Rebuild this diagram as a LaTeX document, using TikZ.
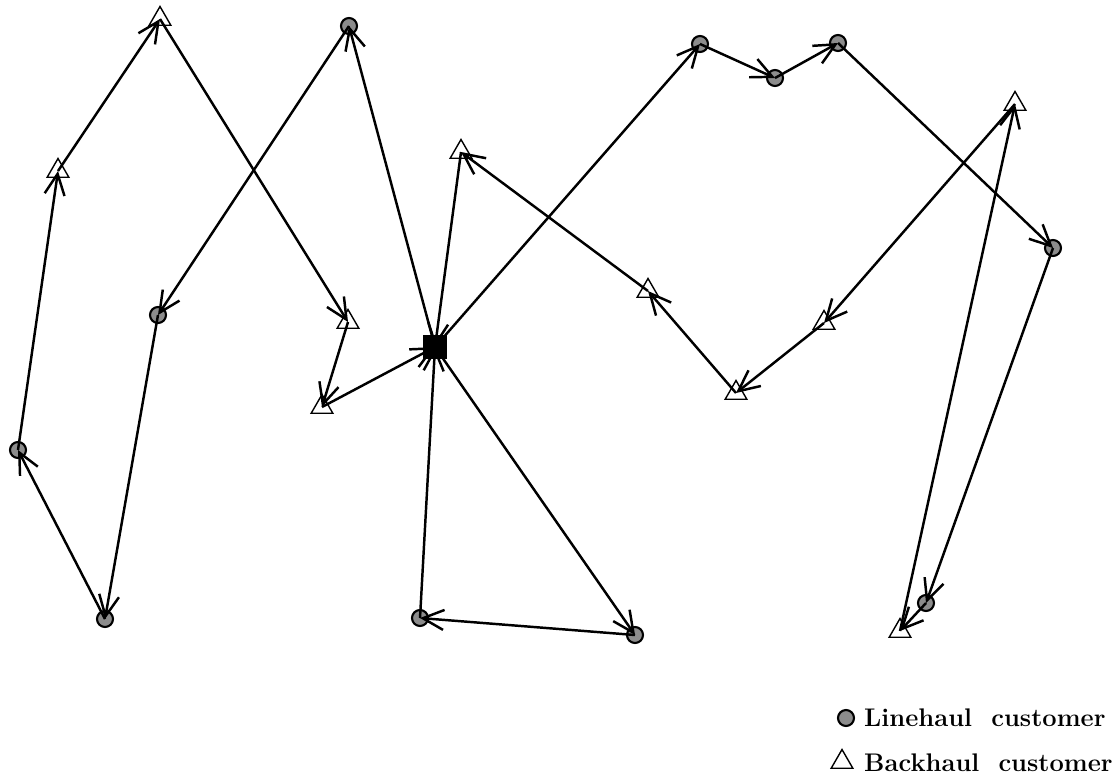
\documentclass[tikz,border=0pt]{standalone}
\usepackage{tikz}
\usetikzlibrary{arrows.meta,shapes.geometric}
\definecolor{linegrey}{RGB}{140,140,140}

\begin{document}
\begin{tikzpicture}[
    line/.style={circle, draw, line width=1.2pt, fill=linegrey, inner sep=0pt,
                 minimum size=0.32cm},
    back/.style={regular polygon, regular polygon sides=3, draw, thick,
                 fill=white, inner sep=0pt, minimum size=0.5cm},
    depot/.style={rectangle, fill=black, inner sep=0pt, minimum size=0.48cm},
    arr/.style={-{Straight Barb[length=4.2mm,width=4mm]}, line width=1.4pt},
    legend/.style={font=\fontsize{14.5}{17}\selectfont\bfseries, anchor=west},
  ]
  \useasboundingbox (0,0) rectangle (22.38,-15.52);

  % Depot
  \node[depot] (D) at (8.70,-6.94) {};

  % Linehaul customers
  \node[line] (L1)  at (6.98,-0.52) {};
  \node[line] (L2)  at (3.16,-6.30) {};
  \node[line] (L3)  at (0.36,-9.00) {};
  \node[line] (L4)  at (2.10,-12.38) {};
  \node[line] (L5)  at (8.40,-12.36) {};
  \node[line] (L6)  at (12.70,-12.70) {};
  \node[line] (L7)  at (14.00,-0.88) {};
  \node[line] (L8)  at (15.50,-1.56) {};
  \node[line] (L9)  at (16.76,-0.86) {};
  \node[line] (L10) at (21.06,-4.96) {};
  \node[line] (L11) at (18.52,-12.06) {};

  % Backhaul customers
  \node[back] (B1)  at (3.20,-0.38) {};
  \node[back] (B2)  at (1.16,-3.42) {};
  \node[back] (B3)  at (6.96,-6.44) {};
  \node[back] (B4)  at (6.44,-8.14) {};
  \node[back] (B5)  at (9.22,-3.04) {};
  \node[back] (B6)  at (12.96,-5.82) {};
  \node[back] (B7)  at (14.72,-7.86) {};
  \node[back] (B8)  at (16.48,-6.46) {};
  \node[back] (B9)  at (20.30,-2.08) {};
  \node[back] (B10) at (18.00,-12.62) {};

  % Route 1
  \draw[arr] (D.center) -- (L1.center);
  \draw[arr] (L1.center) -- (L2.center);
  \draw[arr] (L2.center) -- (L4.center);
  \draw[arr] (L4.center) -- (L3.center);
  \draw[arr] (L3.center) -- (B2.center);
  \draw[arr] (B2.center) -- (B1.center);
  \draw[arr] (B1.center) -- (B3.center);
  \draw[arr] (B3.center) -- (B4.center);
  \draw[arr] (B4.center) -- (D.center);

  % Route 2
  \draw[arr] (D.center) -- (L7.center);
  \draw[arr] (L7.center) -- (L8.center);
  \draw[arr] (L8.center) -- (L9.center);
  \draw[arr] (L9.center) -- (L10.center);
  \draw[arr] (L10.center) -- (L11.center);
  \draw[arr] (L11.center) -- (B10.center);
  \draw[arr] (B10.center) -- (B9.center);
  \draw[arr] (B9.center) -- (B8.center);
  \draw[arr] (B8.center) -- (B7.center);
  \draw[arr] (B7.center) -- (B6.center);
  \draw[arr] (B6.center) -- (B5.center);
  \draw[arr] (B5.center) -- (D.center);

  % Route 3
  \draw[arr] (D.center) -- (L6.center);
  \draw[arr] (L6.center) -- (L5.center);
  \draw[arr] (L5.center) -- (D.center);

  % Legend
  \node[line] (keyL) at (16.92,-14.36) {};
  \node[back] (keyB) at (16.84,-15.24) {};
  \node[legend] at (17.16,-14.36) {Linehaul\ \ customer};
  \node[legend] at (17.16,-15.26) {Backhaul\ \ customer};
\end{tikzpicture}
\end{document}
